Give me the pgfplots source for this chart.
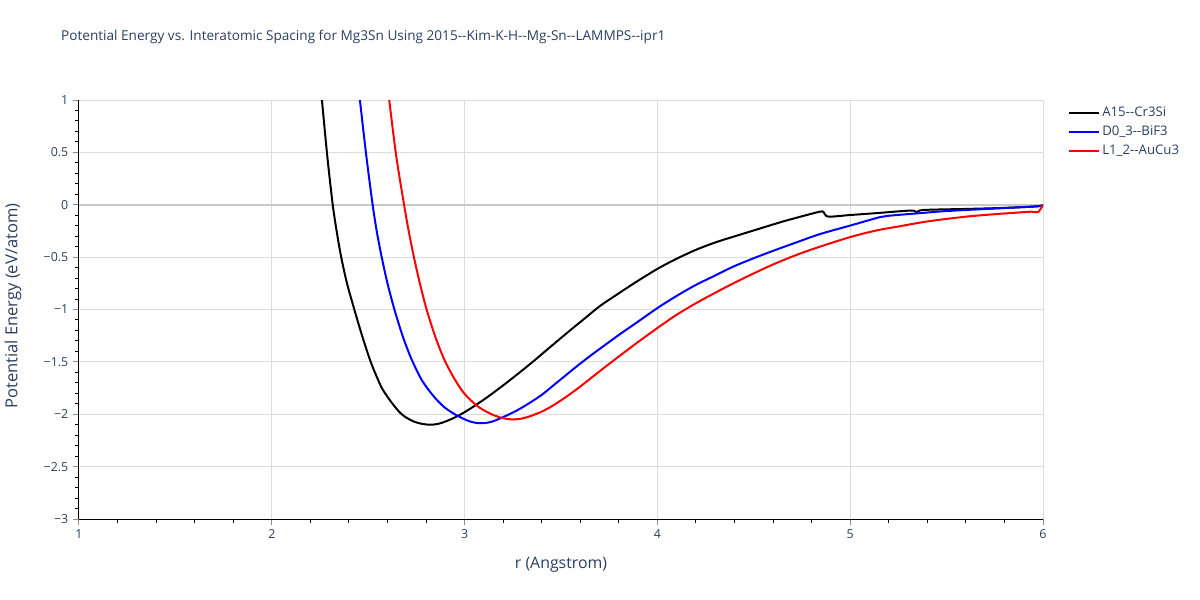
\documentclass[border=0pt]{standalone}
\usepackage{fontspec}
\setmainfont{Open Sans}
\usepackage{pgfplots}
\pgfplotsset{compat=1.18}
\definecolor{txt}{HTML}{2A3F5F}
\definecolor{gridc}{HTML}{DCDCDC}
\definecolor{zeroc}{HTML}{C8C8C8}
\def\dd{-\kern0pt-}
\begin{document}
\begin{tikzpicture}[x=1pt,y=1pt]
\begin{axis}[
  at={(0,0)}, anchor=south west,
  scale only axis, width=723pt, height=314.25pt,
  xmin=1, xmax=6, ymin=-3, ymax=1,
  axis x line*=bottom, axis y line*=left,
  axis line style={black, line width=0.75pt},
  xtick={1,2,3,4,5,6}, xticklabels={1,2,3,4,5,6},
  ytick={-3,-2.5,-2,-1.5,-1,-0.5,0,0.5,1},
  yticklabels={−3,−2.5,−2,−1.5,−1,−0.5,0,0.5,1},
  minor x tick num=4, minor y tick num=4,
  tick align=outside,
  major tick length=4.5pt, minor tick length=3pt,
  major tick style={draw=black!45, line width=0.75pt},
  minor tick style={draw=black, line width=0.75pt},
  grid=major, major grid style={gridc, line width=0.75pt},
  tick label style={font=\fontsize{9.3}{10}\selectfont, text=txt},
  title={Potential Energy vs. Interatomic Spacing for Mg3Sn Using 2015\dd Kim-K-H\dd Mg-Sn\dd LAMMPS\dd ipr1},
  title style={at={(axis description cs:-0.0187,1.131)}, anchor=west, font=\fontsize{10.2}{12}\selectfont, text=txt, inner sep=0pt},
  xlabel={r (Angstrom)},
  xlabel style={at={(axis description cs:0.5,-0.11)}, anchor=center, font=\fontsize{11.9}{13}\selectfont, text=txt, inner sep=0pt},
  ylabel={Potential Energy (eV/atom)},
  ylabel style={at={(axis description cs:-0.0685,0.508)}, anchor=center, rotate=0, font=\fontsize{12.4}{13}\selectfont, text=txt, inner sep=0pt},
  legend style={at={(axis description cs:1.026,0.99)}, anchor=north west, draw=none, fill=none,
    font=\fontsize{9.9}{11}\selectfont, text=txt, row sep=1.5pt, inner sep=0pt},
  legend cell align=left,
  legend image code/.code={\draw[#1] (0pt,0pt) -- (22pt,0pt);},
  clip=true,
]
\coordinate (bl) at (rel axis cs:0,0);
\draw[zeroc, line width=1.5pt] (axis cs:1,0) -- (axis cs:6,0);
\addplot[black, line width=1.5pt, smooth, tension=0.5] coordinates {
(2.25,1.2) (2.26,1.0) (2.288,0.46) (2.316,0.0) (2.338,-0.27) (2.36,-0.5) (2.39,-0.75)
(2.428,-1.0) (2.47,-1.26) (2.513,-1.5) (2.545,-1.645) (2.574,-1.76) (2.62,-1.885)
(2.665,-1.985) (2.70,-2.035) (2.74,-2.072) (2.78,-2.092) (2.82,-2.10) (2.86,-2.093)
(2.90,-2.07) (2.95,-2.03) (3.0,-1.98) (3.05,-1.922) (3.1,-1.86) (3.16,-1.78) (3.236,-1.673)
(3.34,-1.52) (3.443,-1.36) (3.54,-1.21) (3.62,-1.09) (3.702,-0.967) (3.8,-0.845)
(3.9,-0.725) (4.005,-0.607) (4.1,-0.515) (4.2,-0.43) (4.3,-0.36) (4.394,-0.305) (4.5,-0.245)
(4.636,-0.168) (4.75,-0.11) (4.843,-0.066) (4.862,-0.07) (4.886,-0.113) (5.0,-0.098)
(5.15,-0.078) (5.258,-0.062) (5.327,-0.055) (5.345,-0.072) (5.38,-0.05) (5.6,-0.04)
(5.8,-0.03) (5.97,-0.015) (6.0,0.0)
};
\addlegendentry{A15\dd Cr3Si}
\addplot[blue, line width=1.5pt, smooth, tension=0.5] coordinates {
(2.45,1.12) (2.457,1.0) (2.49,0.47) (2.523,0.0) (2.545,-0.26) (2.57,-0.5) (2.60,-0.75)
(2.636,-1.0) (2.68,-1.26) (2.726,-1.48) (2.78,-1.68) (2.838,-1.825) (2.89,-1.925)
(2.94,-1.99) (2.99,-2.04) (3.03,-2.07) (3.063,-2.083) (3.10,-2.085) (3.14,-2.072)
(3.184,-2.04) (3.26,-1.975) (3.33,-1.9) (3.4,-1.815) (3.46,-1.725) (3.52,-1.635)
(3.58,-1.545) (3.65,-1.445) (3.72,-1.35) (3.806,-1.235) (3.9,-1.115) (4.005,-0.98)
(4.1,-0.87) (4.2,-0.765) (4.3,-0.675) (4.394,-0.59) (4.5,-0.51) (4.6,-0.44) (4.72,-0.36)
(4.843,-0.28) (5.007,-0.195) (5.154,-0.118) (5.2,-0.105) (5.35,-0.082) (5.5,-0.06)
(5.75,-0.036) (5.985,-0.013) (6.0,0.0)
};
\addlegendentry{D0\_3\dd BiF3}
\addplot[red, line width=1.5pt, smooth, tension=0.5] coordinates {
(2.60,1.15) (2.609,1.0) (2.645,0.47) (2.686,0.0) (2.71,-0.25) (2.737,-0.5) (2.768,-0.75)
(2.803,-1.0) (2.848,-1.26) (2.895,-1.48) (2.945,-1.655) (2.993,-1.79) (3.04,-1.88)
(3.08,-1.94) (3.14,-2.0) (3.19,-2.033) (3.235,-2.048) (3.28,-2.046) (3.33,-2.025)
(3.4,-1.975) (3.46,-1.915) (3.53,-1.83) (3.6,-1.735) (3.7,-1.59) (3.806,-1.44) (3.9,-1.31)
(4.005,-1.17) (4.1,-1.05) (4.2,-0.94) (4.3,-0.84) (4.394,-0.75) (4.5,-0.655) (4.6,-0.57)
(4.72,-0.48) (4.843,-0.40) (5.007,-0.305) (5.137,-0.245) (5.258,-0.205) (5.38,-0.165)
(5.5,-0.135) (5.62,-0.11) (5.75,-0.09) (5.85,-0.077) (5.941,-0.066) (5.975,-0.07) (6.0,0.0)
};
\addlegendentry{L1\_2\dd AuCu3}
\end{axis}
\pgfresetboundingbox
\path[use as bounding box] ([shift={(-59.25pt,-60.75pt)}]bl) rectangle ++(900pt,450pt);
\end{tikzpicture}
\end{document}
